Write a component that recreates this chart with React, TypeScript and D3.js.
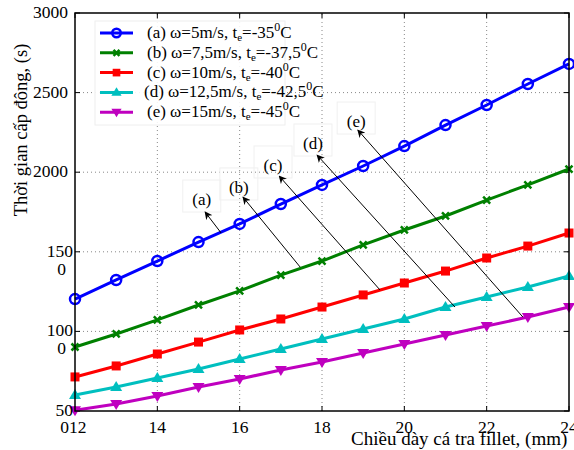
import React, { useEffect, useRef } from "react";
import * as d3 from "d3";

const thickness = [12, 13, 14, 15, 16, 17, 18, 19, 20, 21, 22, 23, 24];
const seriesA = [1203, 1323, 1442, 1561, 1675, 1800, 1920, 2039, 2164, 2296, 2422, 2554, 2680];
const seriesB = [902, 984, 1072, 1166, 1254, 1354, 1442, 1543, 1637, 1725, 1825, 1920, 2020];
const seriesC = [714, 783, 858, 933, 1009, 1078, 1153, 1229, 1304, 1379, 1461, 1536, 1618];
const seriesD = [600, 651, 707, 764, 827, 889, 952, 1015, 1078, 1153, 1216, 1279, 1348];
const seriesE = [505, 544, 594, 651, 701, 758, 808, 864, 921, 977, 1034, 1090, 1153];

const legendNames = ["(a) ω=5m/s, t", "(b) ω=7,5m/s, t", "(c) ω=10m/s, t", "(d) ω=12,5m/s, t", "(e) ω=15m/s, t"];
const legendTemps = ["=-35", "=-37,5", "=-40", "=-42,5", "=-45"];
const colors = ["#0000ff", "#008000", "#ff0000", "#00bfbf", "#bf00bf"];
const markers = ["circle", "x", "square", "triUp", "triDown"];

const xTicks = [12, 14, 16, 18, 20, 22, 24];
const yTicks = [500, 1000, 1500, 2000, 2500, 3000];

// annotation: label, text pos, arrow head, arrow tail (data units)
const annoLabels = ["(a)", "(b)", "(c)", "(d)", "(e)"];
const annoText = [[15.08, 1800], [15.98, 1876], [16.81, 2014], [17.78, 2152], [18.83, 2290]];
const annoHead = [[15.16, 1750], [16.08, 1844], [16.96, 1976], [17.88, 2108], [18.87, 2265]];
const annoTail = [[15.55, 1618], [17.47, 1404], [19.41, 1260], [21.23, 1153], [22.88, 1090]];

const W = 574, H = 450;
const M = { left: 75, right: 5, top: 13, bottom: 39 };
const FONT = "'Liberation Serif', 'Times New Roman', serif";

function drawMarker(g, type, x, y, color, small = false) {
    const k = small ? 0.85 : 1;
    if (type === "circle") {
        g.append("circle").attr("cx", x).attr("cy", y).attr("r", 5 * k)
            .attr("fill", "none").attr("stroke", color).attr("stroke-width", 2.5);
    } else if (type === "x") {
        const s = 3.5 * k;
        g.append("path").attr("d", `M${x - s},${y - s}L${x + s},${y + s}M${x - s},${y + s}L${x + s},${y - s}`)
            .attr("stroke", color).attr("stroke-width", 2.5);
    } else if (type === "square") {
        g.append("rect").attr("x", x - 4.5 * k).attr("y", y - 4.5 * k).attr("width", 9 * k).attr("height", 9 * k).attr("fill", color);
    } else if (type === "triUp") {
        g.append("path").attr("d", `M${x},${y - 6 * k}L${x + 6 * k},${y + 4 * k}L${x - 6 * k},${y + 4 * k}Z`).attr("fill", color);
    } else {
        g.append("path").attr("d", `M${x},${y + 6 * k}L${x + 6 * k},${y - 4 * k}L${x - 6 * k},${y - 4 * k}Z`).attr("fill", color);
    }
}

export default function App() {
    const ref = useRef(null);

    useEffect(() => {
        const svg = d3.select(ref.current);
        svg.selectAll("*").remove();

        const x = d3.scaleLinear().domain([12, 24]).range([M.left, W - M.right]);
        const y = d3.scaleLinear().domain([500, 3000]).range([H - M.bottom, M.top]);
        const x0 = x.range()[0], x1 = x.range()[1];
        const y0 = y.range()[0], y1 = y.range()[1];

        svg.append("defs").append("marker").attr("id", "ah").attr("viewBox", "0 0 10 10")
            .attr("refX", 9).attr("refY", 5).attr("markerWidth", 8).attr("markerHeight", 8)
            .attr("orient", "auto").attr("markerUnits", "userSpaceOnUse")
            .append("path").attr("d", "M0,0L10,5L0,10L3,5Z").attr("fill", "#000");

        // grid
        const grid = svg.append("g").attr("stroke", "#888").attr("stroke-width", 1).attr("stroke-dasharray", "1,3");
        xTicks.slice(1, -1).forEach((t) => grid.append("line").attr("x1", x(t)).attr("x2", x(t)).attr("y1", y0).attr("y2", y1));
        yTicks.slice(1, -1).forEach((t) => grid.append("line").attr("x1", x0).attr("x2", x1).attr("y1", y(t)).attr("y2", y(t)));

        // ticks inward
        const tk = svg.append("g").attr("stroke", "#000").attr("stroke-width", 1);
        xTicks.forEach((t) => {
            tk.append("line").attr("x1", x(t)).attr("x2", x(t)).attr("y1", y0).attr("y2", y0 - 5);
            tk.append("line").attr("x1", x(t)).attr("x2", x(t)).attr("y1", y1).attr("y2", y1 + 5);
        });
        yTicks.forEach((t) => {
            tk.append("line").attr("x1", x0).attr("x2", x0 + 5).attr("y1", y(t)).attr("y2", y(t));
            tk.append("line").attr("x1", x1).attr("x2", x1 - 5).attr("y1", y(t)).attr("y2", y(t));
        });

        // series
        const allSeries = [seriesA, seriesB, seriesC, seriesD, seriesE];
        const line = d3.line().x((d) => x(d[0])).y((d) => y(d[1]));
        allSeries.forEach((s, i) => {
            const pts = thickness.map((t, j) => [t, s[j]]);
            svg.append("path").attr("d", line(pts)).attr("fill", "none")
                .attr("stroke", colors[i]).attr("stroke-width", 3);
            const g = svg.append("g");
            pts.forEach((p) => drawMarker(g, markers[i], x(p[0]), y(p[1]), colors[i]));
        });

        // annotations
        annoLabels.forEach((lab, i) => {
            const tx = x(annoText[i][0]), ty = y(annoText[i][1]);
            svg.append("rect").attr("x", tx - 19).attr("y", ty - 24).attr("width", 38).attr("height", 32)
                .attr("fill", "none").attr("stroke", "#f0f0f0").attr("stroke-width", 1);
            svg.append("line").attr("x1", x(annoTail[i][0])).attr("y1", y(annoTail[i][1]))
                .attr("x2", x(annoHead[i][0])).attr("y2", y(annoHead[i][1]))
                .attr("stroke", "#000").attr("stroke-width", 1).attr("marker-end", "url(#ah)");
            svg.append("text").attr("x", tx).attr("y", ty + 1).attr("text-anchor", "middle")
                .attr("font-family", FONT).attr("font-size", 17).text(lab);
        });

        // frame
        svg.append("rect").attr("x", x0).attr("y", y1).attr("width", x1 - x0).attr("height", y0 - y1)
            .attr("fill", "none").attr("stroke", "#000").attr("stroke-width", 1.5);

        // legend
        const lg = svg.append("g");
        lg.append("rect").attr("x", 95).attr("y", 21).attr("width", 190).attr("height", 104)
            .attr("fill", "#fff").attr("fill-opacity", 0.9).attr("stroke", "#eee");
        legendNames.forEach((name, i) => {
            const ly = 33 + i * 19.8;
            lg.append("line").attr("x1", 100).attr("x2", 133).attr("y1", ly).attr("y2", ly)
                .attr("stroke", colors[i]).attr("stroke-width", 3);
            drawMarker(lg, markers[i], 116.5, ly, colors[i], true);
            const t = lg.append("text").attr("x", i === 3 ? 144 : 147).attr("y", ly + 5)
                .attr("font-family", FONT).attr("font-size", 17);
            t.append("tspan").text(name);
            t.append("tspan").attr("font-size", 11).attr("dy", 3).text("e");
            t.append("tspan").attr("dy", -3).text(legendTemps[i]);
            t.append("tspan").attr("font-size", 12).attr("dy", -7).text("0");
            t.append("tspan").attr("dy", 7).text("C");
        });

        // tick labels
        const lab = svg.append("g").attr("font-family", FONT).attr("font-size", 17.5).attr("fill", "#000");
        xTicks.forEach((t) => lab.append("text").attr("x", x(t)).attr("y", y0 + 22)
            .attr("text-anchor", t === 12 ? "start" : "middle").attr("dx", t === 12 ? -6 : 0).text(String(t)));
        yTicks.forEach((t) => {
            const s = String(t);
            if (t >= 2000) {
                lab.append("text").attr("x", x0 - 7).attr("y", y(t) + 5).attr("text-anchor", "end").text(s);
            } else {
                lab.append("text").attr("x", x0 - 2).attr("y", y(t) + 5).attr("text-anchor", "end").text(s.slice(0, -1));
                lab.append("text").attr("x", t === 500 ? x0 - 6 : x0 - 9).attr("y", t === 500 ? y0 + 22 : y(t) + 23)
                    .attr("text-anchor", "end").text(s.slice(-1));
            }
        });

        // axis titles
        svg.append("text").attr("x", 351).attr("y", 445)
            .attr("font-family", FONT).attr("font-size", 19).text("Chiều dày cá tra fillet, (mm)");
        svg.append("text").attr("transform", `translate(27,130) rotate(-90)`).attr("text-anchor", "middle")
            .attr("font-family", FONT).attr("font-size", 18.5).text("Thời gian cấp đông, (s)");
    }, []);

    return (
        <svg ref={ref} width={W} height={H}
            style={{ position: "absolute", left: 0, top: 0, background: "#fff" }} />
    );
}
